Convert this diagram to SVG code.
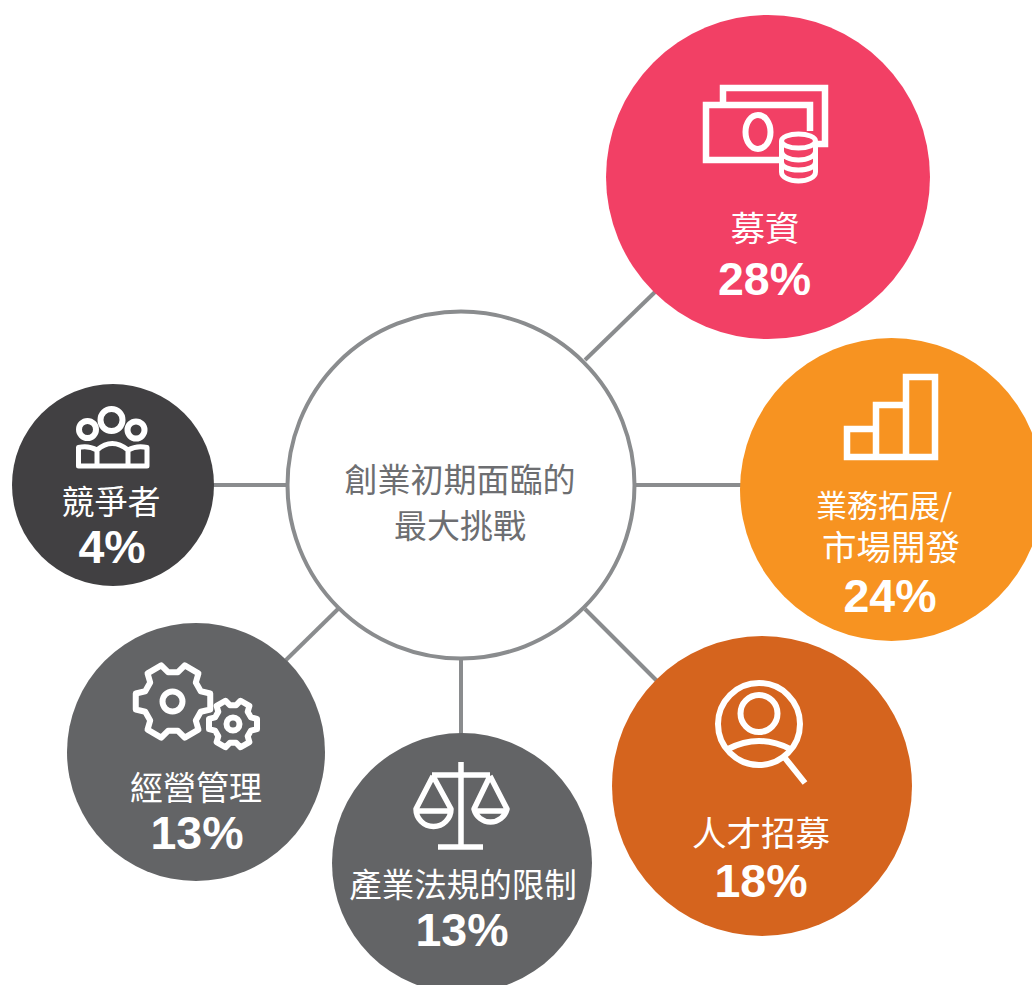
<svg xmlns="http://www.w3.org/2000/svg" width="1032" height="985" viewBox="0 0 1032 985">
<style>
.lbl{font-family:"Noto Sans CJK TC","Noto Sans",sans-serif;font-size:33px;fill:#fff;text-anchor:middle}
.big{font-size:34.500px}
.ctr{fill:#6d6e71}
.pct{font-family:"Liberation Sans",Arial,sans-serif;font-size:46.500px;font-weight:700;fill:#fff;text-anchor:middle}
.ic{fill:none;stroke:#fff;stroke-width:6;stroke-linejoin:round}
.sq{stroke-linejoin:miter;stroke-width:6.500}
.gear{vector-effect:non-scaling-stroke}
.con line{stroke:#8a8c8e;stroke-width:4}
</style>
<defs>
<path id="gearShape" class="gear" d="M73 27L98 21V-21L73 -27L60 -50L67 -74L31 -95L13 -77H-13L-31 -95L-67 -74L-60 -50L-73 -27L-98 -21V21L-73 27L-60 50L-67 74L-31 95L-13 77H13L31 95L67 74L60 50Z"/>
</defs>
<rect width="1032" height="985" fill="#fff"/>
<g id="connectors" class="con">
<line x1="585" y1="360" x2="655" y2="292"/>
<line x1="635" y1="485" x2="741" y2="485"/>
<line x1="585" y1="609" x2="657" y2="681"/>
<line x1="461" y1="659" x2="461" y2="734"/>
<line x1="338" y1="609" x2="286" y2="660"/>
<line x1="213" y1="485" x2="287" y2="485"/>
</g>
<g id="center">
<circle cx="461" cy="485" r="173.500" fill="#fff" stroke="#8a8c8e" stroke-width="4"/>
<text class="lbl ctr" x="460" y="492">創業初期面臨的</text>
<text class="lbl ctr" x="460" y="538">最大挑戰</text>
</g>
<g id="fundraising">
<circle cx="768" cy="177" r="162" fill="#f24065"/>
<path class="ic sq" d="M723 102V88H825V144H813M781 160H706V105H810V131"/>
<ellipse class="ic" cx="758" cy="132" rx="12.500" ry="17"/>
<ellipse class="ic" cx="798.500" cy="141" rx="17" ry="7" style="stroke-width:5"/>
<path class="ic" style="stroke-width:5" d="M781.500 141V172C781.500 177 789 181 798.500 181S815.500 177 815.500 172V141M781.500 151C781.500 156 789 160 798.500 160S815.500 156 815.500 151M781.500 162C781.500 167 789 170 798.500 170S815.500 167 815.500 162"/>
<text class="lbl big" x="765" y="241">募資</text>
<text class="pct" x="764.500" y="295">28%</text>
</g>
<g id="market">
<circle cx="891.500" cy="489.500" r="151.500" fill="#f79321"/>
<path class="ic sq" d="M847 429H876V457H847ZM876 405H906V457H876ZM906 377H935V457H906Z"/>
<text class="lbl" x="884" y="517" style="font-size:31px">業務拓展/</text>
<text class="lbl big" x="891" y="560">市場開發</text>
<text class="pct" x="890" y="612">24%</text>
</g>
<g id="talent">
<circle cx="762" cy="786" r="150" fill="#d5641e"/>
<circle class="ic" cx="759" cy="724" r="41"/>
<circle class="ic" cx="759" cy="713.500" r="18.500"/>
<path class="ic" d="M728 749Q759 733 790 749M785 758L805 783"/>
<text class="lbl big" x="761" y="846">人才招募</text>
<text class="pct" x="761" y="897">18%</text>
</g>
<g id="regulation">
<circle cx="462" cy="863" r="130" fill="#636466"/>
<path class="ic" style="stroke-width:5.500" d="M461 762V847M438 847H483M432 775H490M433 776L416 809A17.500 17.500 0 0 0 451 809L433 776M490 776L474 809A17 17 0 0 0 507 809L490 776M416 811H451M474 811H507"/>
<text class="lbl" x="463" y="897" style="font-size:32.500px">產業法規的限制</text>
<text class="pct" x="462" y="946">13%</text>
</g>
<g id="management">
<circle cx="196" cy="752" r="129" fill="#636466"/>
<use href="#gearShape" class="ic" transform="translate(173 701.500) scale(.38)"/>
<circle class="ic" cx="172.500" cy="701.500" r="10"/>
<use href="#gearShape" class="ic" transform="translate(233 724) scale(.245)"/>
<circle class="ic" cx="233" cy="724" r="6.500"/>
<text class="lbl" x="196" y="800">經營管理</text>
<text class="pct" x="197" y="849">13%</text>
</g>
<g id="competitors">
<circle cx="113" cy="485" r="101" fill="#414042"/>
<circle class="ic" cx="111.500" cy="420" r="11"/>
<circle class="ic" cx="87.500" cy="429.500" r="8.500"/>
<circle class="ic" cx="136" cy="430" r="8.500"/>
<path class="ic" style="stroke-width:5" d="M78.500 447.500Q88 445 97 450Q112 437 128 450Q137 445 147 447.500V466H78.500ZM97 450V466M128 450V466"/>
<text class="lbl" x="111" y="514">競爭者</text>
<text class="pct" x="112" y="563">4%</text>
</g>
</svg>
